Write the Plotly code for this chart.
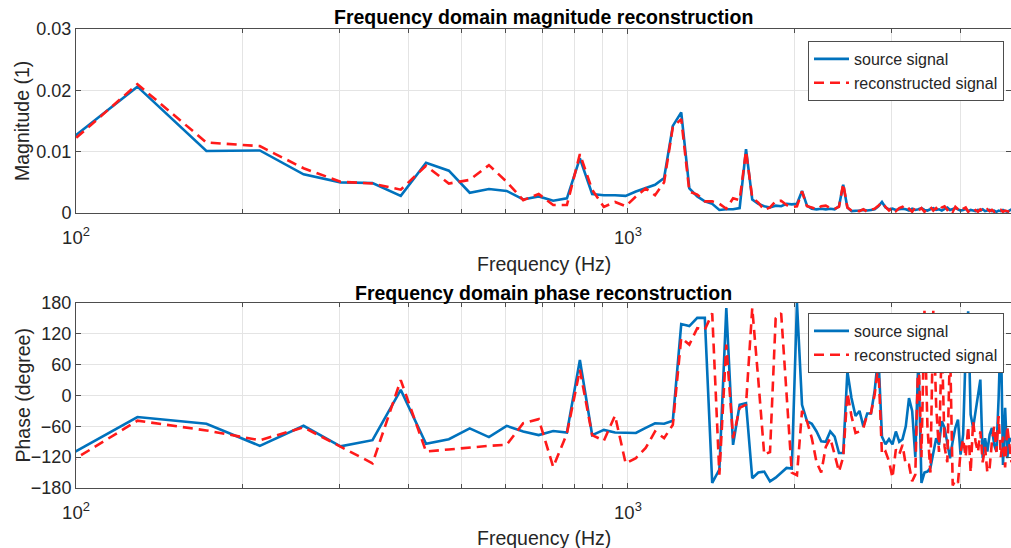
import plotly.graph_objects as go

# FFT bin frequencies (Hz)
freq = [86.1, 129.2, 172.3, 215.3, 258.4, 301.5, 344.5, 387.6, 430.7, 473.7,
        516.8, 559.9, 602.9, 646.0, 689.1, 732.1, 775.2, 818.3, 861.3, 904.4,
        947.5, 990.5, 1033.6, 1076.7, 1119.7, 1162.8, 1205.9, 1248.9, 1292.0, 1335.1,
        1378.1, 1421.2, 1464.3, 1507.3, 1550.4, 1593.5, 1636.5, 1679.6, 1722.7, 1765.7,
        1808.8, 1851.9, 1894.9, 1938.0, 1981.1, 2024.1, 2067.2, 2110.3, 2153.3, 2196.4,
        2239.5, 2282.5, 2325.6, 2368.7, 2411.7, 2454.8, 2497.9, 2540.9, 2584.0, 2627.1,
        2670.1, 2713.2, 2756.3, 2799.3, 2842.4, 2885.4, 2928.5, 2971.6, 3014.6, 3057.7,
        3100.8, 3143.8, 3186.9, 3230.0, 3273.0, 3316.1, 3359.2, 3402.2, 3445.3, 3488.4,
        3531.4, 3574.5, 3617.6, 3660.6, 3703.7, 3746.8, 3789.8, 3832.9, 3876.0, 3919.0,
        3962.1, 4005.2, 4048.2, 4091.3, 4134.4, 4177.4, 4220.5, 4263.6, 4306.6, 4349.7,
        4392.8, 4435.8, 4478.9, 4522.0, 4565.0, 4608.1, 4651.2, 4694.2, 4737.3, 4780.4,
        4823.4, 4866.5, 4909.6, 4952.6]

mag_source = [0.0081, 0.0206, 0.0101, 0.0102, 0.0063, 0.0050, 0.0049, 0.0028, 0.0082, 0.0069,
              0.0033, 0.0039, 0.0036, 0.0022, 0.0027, 0.0020, 0.0024, 0.0089, 0.0031, 0.0029,
              0.0029, 0.0028, 0.0035, 0.0040, 0.0046, 0.0057, 0.0142, 0.0164, 0.0040, 0.0027,
              0.0019, 0.0015, 0.0005, 0.0006, 0.0006, 0.0008, 0.0104, 0.0022, 0.0015, 0.0011,
              0.0009, 0.0012, 0.0011, 0.0015, 0.0014, 0.0015, 0.0036, 0.0012, 0.0007, 0.0006,
              0.0007, 0.0006, 0.0007, 0.0006, 0.0011, 0.0046, 0.0009, 0.0003, 0.0003, 0.0004,
              0.0005, 0.0004, 0.0005, 0.0006, 0.0011, 0.0018, 0.0009, 0.0006, 0.0007, 0.0005,
              0.0006, 0.0007, 0.0006, 0.0004, 0.0007, 0.0005, 0.0006, 0.0008, 0.0005, 0.0004,
              0.0006, 0.0008, 0.0005, 0.0006, 0.0004, 0.0007, 0.0009, 0.0005, 0.0006, 0.0008,
              0.0006, 0.0004, 0.0005, 0.0007, 0.0003, 0.0005, 0.0004, 0.0003, 0.0005, 0.0004,
              0.0006, 0.0003, 0.0004, 0.0005, 0.0003, 0.0004, 0.0002, 0.0004, 0.0003, 0.0005,
              0.0003, 0.0002, 0.0004, 0.0006]

mag_recon = [0.0071, 0.0210, 0.0115, 0.0109, 0.0073, 0.0051, 0.0048, 0.0038, 0.0077, 0.0048,
             0.0054, 0.0078, 0.0051, 0.0021, 0.0031, 0.0013, 0.0013, 0.0096, 0.0038, 0.0010,
             0.0018, 0.0011, 0.0027, 0.0040, 0.0029, 0.0050, 0.0140, 0.0153, 0.0035, 0.0030,
             0.0019, 0.0019, 0.0015, 0.0007, 0.0024, 0.0021, 0.0101, 0.0025, 0.0017, 0.0005,
             0.0009, 0.0019, 0.0020, 0.0013, 0.0010, 0.0011, 0.0035, 0.0011, 0.0009, 0.0006,
             0.0011, 0.0012, 0.0008, 0.0007, 0.0010, 0.0048, 0.0009, 0.0004, 0.0004, 0.0003,
             0.0006, 0.0002, 0.0005, 0.0007, 0.0012, 0.0017, 0.0010, 0.0004, 0.0009, 0.0003,
             0.0008, 0.0010, 0.0004, 0.0007, 0.0002, 0.0009, 0.0004, 0.0008, 0.0002, 0.0007,
             0.0010, 0.0004, 0.0008, 0.0003, 0.0009, 0.0011, 0.0005, 0.0008, 0.0002, 0.0010,
             0.0006, 0.0003, 0.0007, 0.0009, 0.0002, 0.0006, 0.0003, 0.0005, 0.0002, 0.0006,
             0.0004, 0.0002, 0.0006, 0.0003, 0.0005, 0.0002, 0.0004, 0.0003, 0.0005, 0.0002,
             0.0004, 0.0003, 0.0002, 0.0005]

phase_source = [-147, -42, -55, -98, -59, -99, -87, 11, -94, -85,
                -64, -81, -59, -70, -77, -69, -72, 69, -77, -67,
                -72, -73, -73, -63, -54, -55, -49, 139, 135, 151,
                151, -170, -144, 170, -96, -18, -15, -161, -150, -148,
                -167, -160, -151, -141, -142, 180, -18, -50, -55, -70,
                -89, -90, -70, -80, -112, -112, 47, -5, -40, -30,
                -60, -35, -35, 10, 80, -80, -95, -85, -95, -70,
                -90, -85, -60, -5, -30, -120, 75, -170, -150, -148,
                -141, -109, -83, -96, -50, -63, -96, -122, -89, -63,
                -47, -115, -76, 86, 164, -37, -63, -34, -5, 31,
                -122, -83, -109, -76, -63, -96, -109, -5, 138, -135,
                -24, -122, -83, -89]

phase_recon = [-165, -49, -68, -87, -62, -100, -132, 30, -109, -105,
               -101, -98, -96, -54, -46, -139, -74, 50, -77, -88,
               -39, -132, -122, -102, -70, -83, -57, 112, 99, 131,
               128, 160, -154, 99, -83, -24, -18, 170, 30, -115,
               -110, 150, 160, 5, -150, -155, -30, -50, -83, -130,
               -150, -100, -83, -115, -148, -120, 5, -40, -73, -70,
               -63, -37, -34, 2, 60, -115, -109, -128, -160, -105,
               -115, -96, -135, -135, -167, -154, 90, -120, 165, -60,
               -150, 165, -20, -110, 110, -100, -130, 100, -175, -165,
               -170, -110, -85, -120, -60, -150, -50, -90, -110, -70,
               -130, -100, -150, -140, -90, -60, -110, -40, -120, -80,
               -140, -60, -100, -130]

major_ticks = [100, 1000]
major_text = ["10<sup>2</sup>", "10<sup>3</sup>"]
minor_ticks = [200, 300, 400, 500, 600, 700, 800, 900, 2000, 3000, 4000]

BLUE = "#0072BD"
RED = "#FF1A1A"
FONT = "Liberation Sans, Arial, sans-serif"
TXT = "#262626"
AX = "#4d4d4d"
GRID = "#e4e4e4"

W, H = 1011, 548
L = 76

def py(pix):
    return 1 - pix / H

def px(pix):
    return (pix - L) / (W - L)

fig = go.Figure()

fig.add_trace(go.Scatter(x=freq, y=mag_source, mode="lines", name="source signal",
                         line=dict(color=BLUE, width=2.6), xaxis="x", yaxis="y", legend="legend"))
fig.add_trace(go.Scatter(x=freq, y=mag_recon, mode="lines", name="reconstructed signal",
                         line=dict(color=RED, width=2.6, dash="10px,6px"), xaxis="x", yaxis="y", legend="legend"))
fig.add_trace(go.Scatter(x=freq, y=phase_source, mode="lines", name="source signal",
                         line=dict(color=BLUE, width=2.6), xaxis="x2", yaxis="y2", legend="legend2"))
fig.add_trace(go.Scatter(x=freq, y=phase_recon, mode="lines", name="reconstructed signal",
                         line=dict(color=RED, width=2.6, dash="10px,6px"), xaxis="x2", yaxis="y2", legend="legend2"))

xcommon = dict(type="log", range=[2, 3.694], tickmode="array", tickvals=major_ticks, ticktext=major_text,
               ticks="inside", ticklen=5, tickcolor=AX, showline=True, linecolor=AX,
               linewidth=1, mirror="ticks", showgrid=True, gridcolor=GRID, gridwidth=1,
               zeroline=False, tickfont=dict(family=FONT, size=18.5, color=TXT), ticklabelstandoff=8,
               minor=dict(tickmode="array", tickvals=minor_ticks, ticks="inside", ticklen=4,
                          tickcolor=AX, showgrid=True, gridcolor=GRID, gridwidth=1))
ycommon = dict(ticks="inside", ticklen=5, tickcolor=AX, showline=True, linecolor=AX,
               linewidth=1, mirror="ticks", showgrid=True, gridcolor=GRID, gridwidth=1,
               zeroline=False, tickfont=dict(family=FONT, size=18, color=TXT))

fig.update_layout(
    width=W, height=H,
    margin=dict(l=L, r=0, t=0, b=0, autoexpand=False),
    paper_bgcolor="white", plot_bgcolor="white",
    xaxis=dict(xcommon, domain=[0, 1], anchor="y"),
    yaxis=dict(ycommon, domain=[py(213), py(29)], range=[0, 0.03], tickvals=[0, 0.01, 0.02, 0.03],
               ticktext=["0", "0.01", "0.02", "0.03"], anchor="x"),
    xaxis2=dict(xcommon, domain=[0, 1], anchor="y2"),
    yaxis2=dict(ycommon, domain=[py(488), py(303)], range=[-180, 180],
                tickvals=[-180, -120, -60, 0, 60, 120, 180], anchor="x2"),
    legend=dict(x=px(808), y=py(41), xanchor="left", yanchor="top", bgcolor="white",
                bordercolor=AX, borderwidth=1, font=dict(family=FONT, size=16, color=TXT),
                itemwidth=35, tracegroupgap=0),
    legend2=dict(x=px(808), y=py(313), xanchor="left", yanchor="top", bgcolor="white",
                 bordercolor=AX, borderwidth=1, font=dict(family=FONT, size=16, color=TXT),
                 itemwidth=35, tracegroupgap=0),
    showlegend=True,
)

ann = [
    dict(text="<b>Frequency domain magnitude reconstruction</b>", x=0.5, y=py(17), size=19.5, angle=0, color="#000000"),
    dict(text="<b>Frequency domain phase reconstruction</b>", x=0.5, y=py(293), size=19.5, angle=0, color="#000000"),
    dict(text="Frequency (Hz)", x=0.5, y=py(264), size=19.5, angle=0, color=TXT),
    dict(text="Frequency (Hz)", x=0.5, y=py(538), size=19.5, angle=0, color=TXT),
    dict(text="Magnitude (1)", x=px(22), y=py(121), size=19.5, angle=-90, color=TXT),
    dict(text="Phase (degree)", x=px(22), y=py(395.5), size=19.5, angle=-90, color=TXT),
]
for a in ann:
    fig.add_annotation(text=a["text"], x=a["x"], y=a["y"], xref="paper", yref="paper",
                       xanchor="center", yanchor="middle", showarrow=False, textangle=a["angle"],
                       font=dict(family=FONT, size=a["size"], color=a["color"]))

fig.write_html("out.html")
